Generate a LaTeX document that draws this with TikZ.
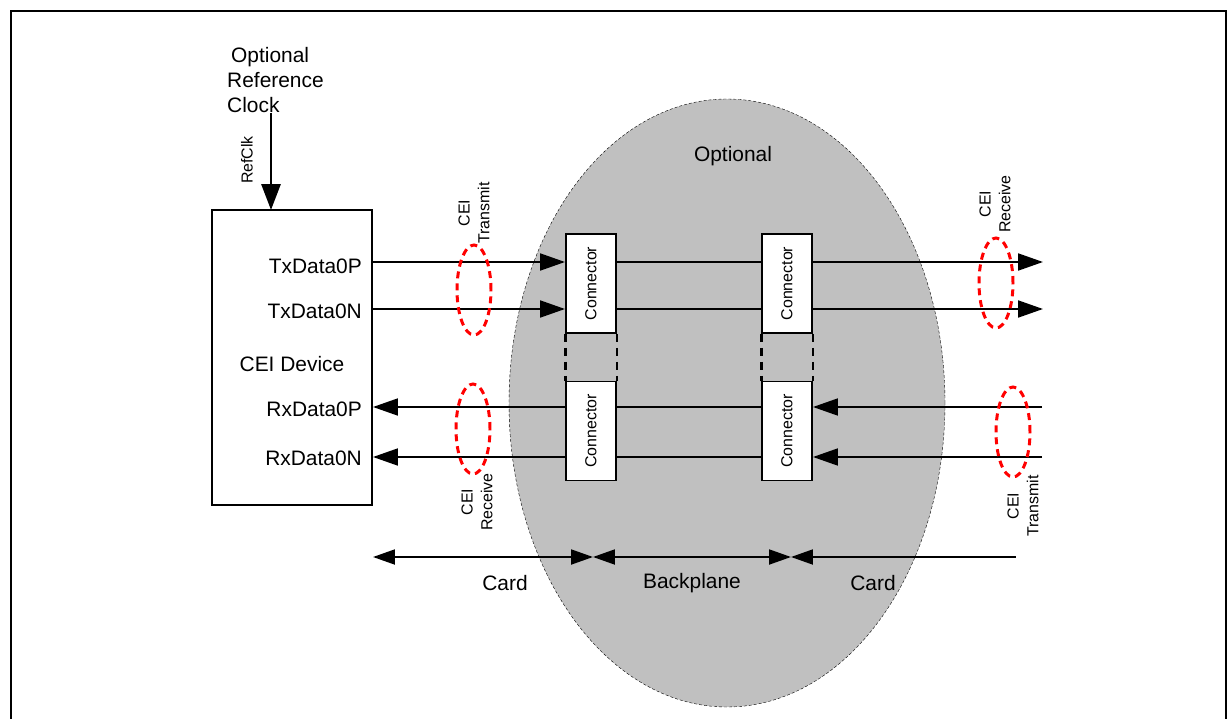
\documentclass[tikz,border=0pt]{standalone}
\usepackage{fontspec}
\setmainfont{Liberation Sans}
\usetikzlibrary{arrows.meta, shapes.geometric}
\definecolor{optgray}{RGB}{192,192,192}

\begin{document}
\begin{tikzpicture}[
  x=1bp, y=-1bp,
  font=\fontsize{21}{25}\selectfont,
  small/.style={font=\fontsize{16}{20}\selectfont},
  device/.style={draw, line width=2pt, minimum width=160bp, minimum height=295bp,
                 inner sep=0pt},
  conn/.style={draw, fill=white, line width=2pt, minimum width=50bp,
               minimum height=99bp, inner sep=0pt, small},
  optarea/.style={ellipse, draw, fill=optgray, thin, dash pattern=on 3pt off 2pt,
                  minimum width=436bp, minimum height=608bp, inner sep=0pt},
  pin/.style={anchor=east, inner sep=0pt},
  cei/.style={ellipse, draw=red, line width=3pt, dash pattern=on 7pt off 5pt,
              minimum width=34bp, minimum height=90bp, inner sep=0pt},
  ceilabel/.style={rotate=90, align=center, inner sep=0pt, small},
  sig/.style={line width=2pt},
  tip/.style={-{Triangle[length=25pt, width=17pt]}},
  link/.style={line width=3pt, dash pattern=on 8pt off 6pt},
  clk/.style={line width=3pt, -{Triangle[length=26pt, width=19pt]}},
  dim/.style={line width=2pt, {Triangle[length=22pt, width=15pt]}-{Triangle[length=22pt, width=15pt]}},
  dimend/.style={line width=2pt, {Triangle[length=22pt, width=15pt]}-}
]
\useasboundingbox (0,0) rectangle (1229,719);

%% ---------- frame ----------
\draw[line width=2pt] (11,719) -- (11,11) -- (1226,11) -- (1226,719);

%% ---------- optional area ----------
\node[optarea] (opt) at (727,403) {};
\node (optlbl) at (733,156) {Optional};

%% ---------- device ----------
\node[device] (dev) at (292,357.5) {};
\node (devlbl) at (292,364) {CEI Device};
\node[pin] (ltxp) at (362,266) {TxData0P};
\node[pin] (ltxn) at (362,311) {TxData0N};
\node[pin] (lrxp) at (362,409) {RxData0P};
\node[pin] (lrxn) at (362,458) {RxData0N};

%% ---------- reference clock ----------
\node[align=left, anchor=north west, inner sep=0pt] (refsrc) at (227,47)
  {\hspace*{4bp}Optional\\Reference\\Clock};
\node[rotate=90, small] (refclk) at (247,160) {RefClk};
\coordinate (clkin) at (271,210);
\draw[clk] (clkin |- refsrc.south) -- (clkin);

%% ---------- connectors ----------
\node[conn] (conA) at (591,283.5) {\rotatebox{90}{Connector}};
\node[conn] (conB) at (787,283.5) {\rotatebox{90}{Connector}};
\node[conn] (conC) at (591,431) {\rotatebox{90}{Connector}};
\node[conn] (conD) at (787,431) {\rotatebox{90}{Connector}};

\draw[link] (conA.south west) -- (conC.north west);
\draw[link] (conA.south east) -- (conC.north east);
\draw[link] (conB.south west) -- (conD.north west);
\draw[link] (conB.south east) -- (conD.north east);

%% ---------- signal rows ----------
\coordinate (txp) at (1043,262);
\coordinate (txn) at (1043,309);
\coordinate (rxp) at (1042,407);
\coordinate (rxn) at (1042,457);

\draw[sig, tip] (dev.east |- txp) -- (conA.west |- txp);
\draw[sig, tip] (dev.east |- txn) -- (conA.west |- txn);
\draw[sig] (conA.east |- txp) -- (conB.west |- txp);
\draw[sig] (conA.east |- txn) -- (conB.west |- txn);
\draw[sig, tip] (conB.east |- txp) -- (txp);
\draw[sig, tip] (conB.east |- txn) -- (txn);

\draw[sig, tip] (rxp) -- (conD.east |- rxp);
\draw[sig, tip] (rxn) -- (conD.east |- rxn);
\draw[sig] (conD.west |- rxp) -- (conC.east |- rxp);
\draw[sig] (conD.west |- rxn) -- (conC.east |- rxn);
\draw[sig, tip] (conC.west |- rxp) -- (dev.east |- rxp);
\draw[sig, tip] (conC.west |- rxn) -- (dev.east |- rxn);

%% ---------- CEI groups ----------
\node[cei] (ceiA) at (474,290) {};
\node[cei] (ceiB) at (996,283) {};
\node[cei] (ceiC) at (473,429) {};
\node[cei] (ceiD) at (1013,432) {};
\node[ceilabel] (ceiAlbl) at (474,213) {CEI\\Transmit};
\node[ceilabel] (ceiBlbl) at (995,204) {CEI\\Receive};
\node[ceilabel] (ceiClbl) at (477,502) {CEI\\Receive};
\node[ceilabel] (ceiDlbl) at (1023,506) {CEI\\Transmit};

%% ---------- spans ----------
\coordinate (spanL) at (373,557);
\coordinate (spanM) at (593,557);
\coordinate (spanN) at (791,557);
\coordinate (spanR) at (1016,557);
\draw[dim] (spanL) -- (spanM);
\draw[dim] (spanM) -- (spanN);
\draw[dimend] (spanN) -- (spanR);
\node (card1) at (505,583) {Card};
\node (bplane) at (692,583) {Backplane};
\node (card2) at (873,583) {Card};
\end{tikzpicture}
\end{document}
